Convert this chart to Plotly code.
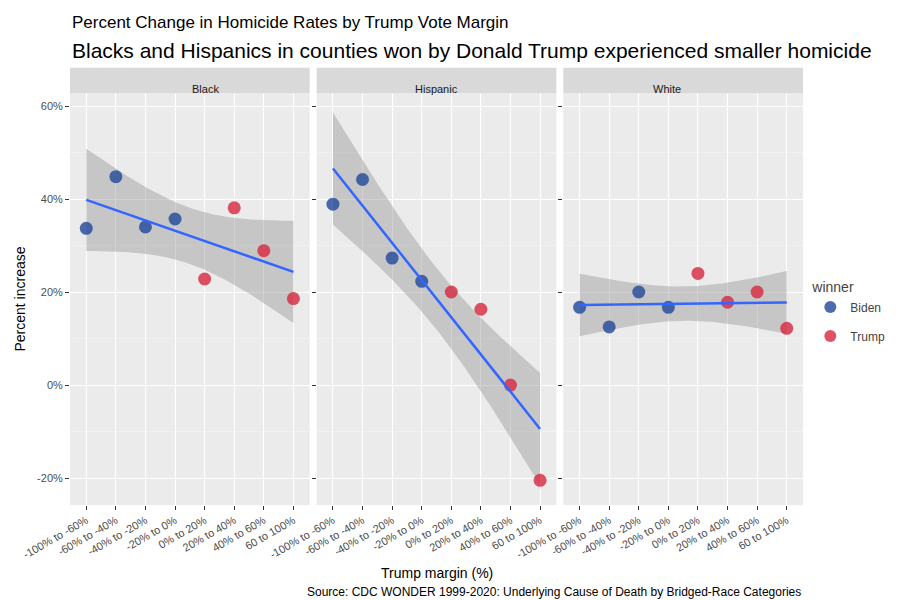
import numpy as np
import plotly.graph_objects as go
from plotly.subplots import make_subplots

margins = ["-100% to -60%", "-60% to -40%", "-40% to -20%", "-20% to 0%",
           "0% to 20%", "20% to 40%", "40% to 60%", "60 to 100%"]
winner = ["Biden"] * 4 + ["Trump"] * 4
groups = ["Black", "Hispanic", "White"]
black = [33.7, 44.8, 34.0, 35.7, 22.8, 38.1, 28.9, 18.6]
hispanic = [38.9, 44.2, 27.3, 22.3, 20.0, 16.3, 0.0, -20.5]
white = [16.7, 12.5, 20.0, 16.7, 24.0, 17.8, 20.0, 12.2]
values = {"Black": black, "Hispanic": hispanic, "White": white}

colors = {"Biden": "#21479a", "Trump": "#d7263d"}

fig = make_subplots(rows=1, cols=3, shared_yaxes=True, horizontal_spacing=0.0095)

x = np.arange(len(margins))
xs = np.linspace(0, len(margins) - 1, 80)
t975 = 2.447  # t quantile, df = 6

for i, g in enumerate(groups):
    y = np.array(values[g])
    b1, b0 = np.polyfit(x, y, 1)
    resid = y - (b0 + b1 * x)
    s = np.sqrt((resid ** 2).sum() / (len(x) - 2))
    se = s * np.sqrt(1 / len(x) + (xs - x.mean()) ** 2 / ((x - x.mean()) ** 2).sum())
    fit = b0 + b1 * xs
    fig.add_trace(go.Scatter(x=np.concatenate([xs, xs[::-1]]),
                             y=np.concatenate([fit + t975 * se, (fit - t975 * se)[::-1]]),
                             fill="toself", fillcolor="rgba(153,153,153,0.45)",
                             line=dict(width=0), mode="lines", showlegend=False,
                             hoverinfo="skip"), row=1, col=i + 1)
    for w in ["Biden", "Trump"]:
        idx = [k for k in range(len(margins)) if winner[k] == w]
        fig.add_trace(go.Scatter(x=[x[k] for k in idx], y=[y[k] for k in idx], mode="markers",
                                 marker=dict(size=13, color=colors[w], opacity=0.8),
                                 name=w, legendgroup=w, showlegend=(i == 0)),
                      row=1, col=i + 1)
    fig.add_trace(go.Scatter(x=xs, y=fit, mode="lines", line=dict(color="#3366FF", width=2.5),
                             showlegend=False), row=1, col=i + 1)

for i in range(3):
    fig.update_xaxes(tickvals=list(x), ticktext=margins, tickangle=-30, range=[-0.55, 7.55],
                     showgrid=True, gridcolor="white", gridwidth=1.2, zeroline=False, automargin=False,
                     ticks="outside", ticklen=4, tickcolor="#333", tickfont=dict(size=11, color="#4d4d4d"),
                     row=1, col=i + 1)
    xr = fig.layout[f"xaxis{'' if i == 0 else i + 1}"].domain
    fig.add_shape(type="rect", xref="paper", yref="paper", x0=xr[0], x1=xr[1], y0=1.0, y1=1.061,
                  fillcolor="#d9d9d9", line=dict(width=0))
    fig.add_annotation(text=groups[i], xref="paper", yref="paper", x=(xr[0] + xr[1]) / 2, y=1.030,
                       showarrow=False, font=dict(size=11, color="#1a1a1a"))

fig.update_yaxes(range=[-25.8, 62.8], tickvals=[-20, 0, 20, 40, 60], automargin=False,
                 ticktext=["-20%", "0%", "20%", "40%", "60%"], showgrid=True, gridcolor="white",
                 gridwidth=1.2, zeroline=False, minor=dict(dtick=10, tick0=10, gridcolor="#f2f2f2", gridwidth=0.6, showgrid=True),
                 ticks="outside", ticklen=4, tickcolor="#333", tickfont=dict(size=11, color="#4d4d4d"))
fig.update_yaxes(title=dict(text="Percent increase", font=dict(size=14, color="black"), standoff=8), row=1, col=1)

fig.update_layout(
    width=900, height=600, template="none",
    plot_bgcolor="#ebebeb", paper_bgcolor="white",
    font=dict(family="Liberation Sans, Arial, sans-serif"),
    margin=dict(l=62, r=105, t=85, b=103, autoexpand=False),
    legend=dict(title=dict(text="winner", font=dict(size=14)), x=1.01, y=0.56, yanchor="top",
                font=dict(size=12), itemsizing="constant"),
    showlegend=True,
)
fig.add_annotation(text="Percent Change in Homicide Rates by Trump Vote Margin", xref="paper", yref="paper",
                   x=-0.0, y=1.17, xanchor="left", yanchor="middle", showarrow=False, font=dict(size=17, color="black"))
fig.add_annotation(text="Blacks and Hispanics in counties won by Donald Trump experienced smaller homicide",
                   xref="paper", yref="paper", x=-0.0, y=1.104, xanchor="left", yanchor="middle", showarrow=False,
                   font=dict(size=21, color="black"))
fig.add_annotation(text="Trump margin (%)", xref="paper", yref="paper", x=0.5, y=-0.165, yanchor="middle",
                   showarrow=False, font=dict(size=14, color="black"))
fig.add_annotation(text="Source: CDC WONDER 1999-2020: Underlying Cause of Death by Bridged-Race Categories",
                   xref="paper", yref="paper", x=1.0, y=-0.21, xanchor="right", yanchor="middle",
                   showarrow=False, font=dict(size=12, color="black"))

fig.write_html("out.html")
